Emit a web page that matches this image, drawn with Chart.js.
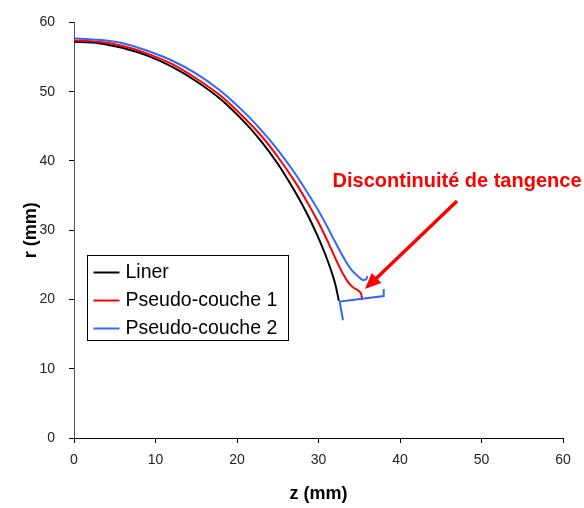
<!DOCTYPE html>
<html>
<head>
<meta charset="utf-8">
<script src="https://cdn.jsdelivr.net/npm/chart.js@4/dist/chart.umd.min.js"></script>
<style>
  html, body { margin: 0; padding: 0; background: #fff; }
  #wrap { width: 584px; height: 508px; position: relative; }
</style>
</head>
<body>
<div id="wrap"><canvas id="chart" width="584" height="508"></canvas></div>
<script>
// Data (z in mm, r in mm)
const linerZ = [0, 3, 6, 9, 12, 15, 18, 21, 23, 25, 27, 28.5, 29.8, 30.8, 31.6, 32.1, 32.5];
const linerR = [57.2, 57.0, 56.3, 55.2, 53.6, 51.5, 48.9, 45.5, 42.8, 39.6, 35.8, 32.6, 29.4, 26.6, 24.0, 22.0, 19.8];

const couche1Z = [0, 3, 6, 9, 12, 15, 18, 21, 23, 25, 27, 28.5, 30, 31.2, 32.2, 33, 33.7, 34.3, 34.9, 35.2, 35.3, 35.3];
const couche1R = [57.4, 57.2, 56.6, 55.5, 54.0, 51.9, 49.4, 46.1, 43.6, 40.6, 37.2, 34.3, 31.1, 28.2, 25.6, 23.7, 22.4, 21.7, 21.3, 20.9, 20.4, 19.9];

const couche2Z = [0, 3, 6, 9, 12, 15, 18, 21, 23, 25, 27, 28.5, 30, 31.3, 32.4, 33.3, 34.1, 34.8, 35.3, 35.6, 35.9, 36.0];
const couche2R = [57.7, 57.5, 57.0, 55.9, 54.5, 52.6, 50.1, 46.9, 44.4, 41.6, 38.4, 35.7, 32.8, 30.0, 27.5, 25.6, 24.2, 23.4, 22.9, 22.8, 23.0, 23.4];

// blue bracket at the end of Pseudo-couche 2
const raccordZ = [33.0, 32.6, 38.0, 38.0];
const raccordR = [17.0, 19.7, 20.5, 21.5];

const xTicks = [0, 10, 20, 30, 40, 50, 60];
const yTicks = [0, 10, 20, 30, 40, 50, 60];

const seriesNames = ['Liner', 'Pseudo-couche 1', 'Pseudo-couche 2'];
const seriesColors = ['#000000', '#ff0000', '#3366ff'];

const noteText = 'Discontinuité de tangence';
const noteAt = { x: 47.0, y: 36.2 };
const arrowFrom = { x: 47.0, y: 34.2 };
const arrowTo = { x: 35.7, y: 21.5 };

const pts = (zs, rs) => zs.map((z, i) => ({ x: z, y: rs[i] }));

const FONT = '"Liberation Sans", Arial, sans-serif';

// legend box + red note with arrow
const extras = {
  id: 'extras',
  afterDatasetsDraw(chart) {
    const c = chart.ctx;
    const xs = chart.scales.x, ys = chart.scales.y;

    // note
    c.save();
    c.fillStyle = '#ff0000';
    c.font = 'bold 20px ' + FONT;
    c.textAlign = 'center';
    c.textBaseline = 'alphabetic';
    c.fillText(noteText, xs.getPixelForValue(noteAt.x), ys.getPixelForValue(noteAt.y));

    // arrow
    const x0 = xs.getPixelForValue(arrowFrom.x), y0 = ys.getPixelForValue(arrowFrom.y);
    const x1 = xs.getPixelForValue(arrowTo.x), y1 = ys.getPixelForValue(arrowTo.y);
    const ang = Math.atan2(y1 - y0, x1 - x0);
    const headLen = 16, headW = 7;
    const bx = x1 - headLen * Math.cos(ang), by = y1 - headLen * Math.sin(ang);
    c.strokeStyle = '#ff0000';
    c.lineWidth = 3.5;
    c.beginPath();
    c.moveTo(x0, y0);
    c.lineTo(bx + 2 * Math.cos(ang), by + 2 * Math.sin(ang));
    c.stroke();
    c.beginPath();
    c.moveTo(x1, y1);
    c.lineTo(bx + headW * Math.sin(ang), by - headW * Math.cos(ang));
    c.lineTo(bx - headW * Math.sin(ang), by + headW * Math.cos(ang));
    c.closePath();
    c.fill();
    c.restore();

    // legend
    const a = chart.chartArea;
    const lx = a.left + 13.5, ly = 255.5, lw = 201, lh = 85;
    c.save();
    c.fillStyle = '#fff';
    c.fillRect(lx, ly, lw, lh);
    c.strokeStyle = '#000';
    c.lineWidth = 1;
    c.strokeRect(lx, ly, lw, lh);
    c.font = '19.5px ' + FONT;
    c.textBaseline = 'middle';
    c.textAlign = 'left';
    seriesNames.forEach((name, i) => {
      const yy = ly + 17 + i * 28;
      c.strokeStyle = seriesColors[i];
      c.lineWidth = 2;
      c.beginPath();
      c.moveTo(lx + 6, yy);
      c.lineTo(lx + 32, yy);
      c.stroke();
      c.fillStyle = '#000';
      c.fillText(name, lx + 38, yy);
    });
    c.restore();
  }
};

const line = (data, color, order, tension) => ({
  data, borderColor: color, backgroundColor: color, borderWidth: 2,
  showLine: true, pointRadius: 0, tension, order
});

new Chart(document.getElementById('chart'), {
  type: 'scatter',
  data: {
    datasets: [
      { label: seriesNames[0], ...line(pts(linerZ, linerR), seriesColors[0], 3, 0.2) },
      { label: seriesNames[1], ...line(pts(couche1Z, couche1R), seriesColors[1], 2, 0.2) },
      { label: seriesNames[2], ...line(pts(couche2Z, couche2R), seriesColors[2], 1, 0.2) },
      { label: seriesNames[2], ...line(pts(raccordZ, raccordR), seriesColors[2], 1, 0) }
    ]
  },
  options: {
    responsive: false,
    animation: false,
    layout: { padding: { top: 17, right: 21, bottom: 0, left: 0 } },
    plugins: { legend: { display: false }, tooltip: { enabled: false } },
    scales: {
      x: {
        type: 'linear', min: 0, max: 60,
        afterBuildTicks: s => { s.ticks = xTicks.map(v => ({ value: v })); },
        afterFit: s => { s.height = 70; },
        grid: { drawOnChartArea: false, drawTicks: true, tickLength: 5, color: '#000' },
        border: { color: '#000', width: 1 },
        ticks: { color: '#222', font: { family: FONT, size: 14 }, padding: 9, maxRotation: 0 },
        title: { display: true, text: 'z (mm)', color: '#000', font: { family: FONT, size: 18, weight: 'bold' }, padding: { top: 0, bottom: 3 } }
      },
      y: {
        type: 'linear', min: 0, max: 60,
        afterBuildTicks: s => { s.ticks = yTicks.map(v => ({ value: v })); },
        afterFit: s => { s.width = 74; },
        grid: { drawOnChartArea: false, drawTicks: true, tickLength: 5, color: '#000' },
        border: { color: '#555', width: 1 },
        ticks: { color: '#222', font: { family: FONT, size: 14 }, padding: 14 },
        title: { display: true, text: 'r (mm)', color: '#000', font: { family: FONT, size: 18, weight: 'bold' }, padding: { top: 20, bottom: 0 } }
      }
    }
  },
  plugins: [extras]
});
</script>
</body>
</html>
